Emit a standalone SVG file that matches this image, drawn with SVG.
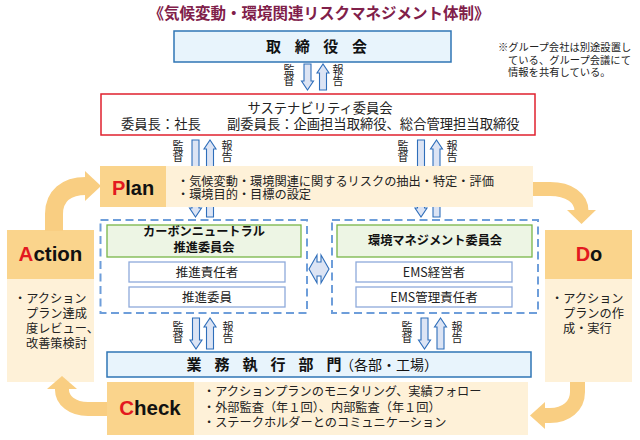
<svg xmlns="http://www.w3.org/2000/svg" width="640" height="440" viewBox="0 0 640 440">
<style>
.jp{font-family:'Noto Sans CJK JP','Noto Sans',sans-serif;fill:#222}
.b{font-weight:bold}
.lat{font-family:'Liberation Sans',Arial,sans-serif;font-weight:bold;fill:#111}
.red{fill:#E3191F}
.bluebox{fill:#E8F4FC;stroke:#2F75B5;stroke-width:1.5}
.hdr{fill:#FAD48C}
.cream{fill:#FEF1D8}
.green{fill:#EDF5E4;stroke:#78B548;stroke-width:1.3}
.sub{fill:#fff;stroke:#8EAADB;stroke-width:1.3}
.dash{fill:none;stroke:#6E9EDA;stroke-width:2;stroke-dasharray:8 4.5}
.va{fill:#DCE4F4;stroke:#2F6EBA;stroke-width:1.1}
.curve{fill:none;stroke:#F9CE82}
.head{fill:#F9CE82}
.vl{font-size:11px;writing-mode:vertical-rl;text-orientation:upright}
.t12{font-size:12.2px}
.mid{text-anchor:middle}
</style>
<rect width="640" height="440" fill="#fff"/>

<g id="title">
<text x="319" y="19" class="jp b mid" font-size="15.5" style="fill:#80204A">《気候変動・環境関連リスクマネジメント体制》</text>
</g>

<g id="note">
<text class="jp" font-size="10.3"><tspan x="498" y="51">※グループ会社は別途設置し</tspan><tspan x="508" y="63.5">ている、グループ会議にて</tspan><tspan x="508" y="76">情報を共有している。</tspan></text>
</g>

<g id="action">
<rect x="7" y="230" width="87" height="49" class="hdr"/>
<rect x="7" y="279" width="87" height="103" class="cream"/>
<text x="50.5" y="261" class="lat mid" font-size="20.5"><tspan class="red">A</tspan>ction</text>
<text class="jp t12"><tspan x="14" y="303">・アクション</tspan><tspan x="26" y="318">プラン達成</tspan><tspan x="26" y="333">度レビュー、</tspan><tspan x="26" y="348">改善策検討</tspan></text>
</g>

<g id="connectors">
<path class="va" d="M304 64 H311 V81 H313.5 L307.5 90 L301.5 81 H304 Z"/>
<path class="va" d="M319.5 90 H326.5 V73 H329 L323 64 L317 73 H319.5 Z"/>
<path class="va" d="M192 140 H199 V208 H201.5 L195.5 217 L189.5 208 H192 Z"/>
<path class="va" d="M206.5 217 H213.5 V149 H216 L210 140 L204 149 H206.5 Z"/>
<path class="va" d="M417.5 140 H424.5 V208 H427 L421 217 L415 208 H417.5 Z"/>
<path class="va" d="M433 217 H440 V149 H442.5 L436.5 140 L430.5 149 H433 Z"/>
<path class="va" d="M192.5 318 H199.5 V340 H202 L196 349 L190 340 H192.5 Z"/>
<path class="va" d="M206.5 349 H213.5 V327 H216 L210 318 L204 327 H206.5 Z"/>
<path class="va" d="M421 318 H428 V340 H430.5 L424.5 349 L418.5 340 H421 Z"/>
<path class="va" d="M437 349 H444 V327 H446.5 L440.5 318 L434.5 327 H437 Z"/>
<path class="va" d="M309 269 L317 255 V262 H321 V255 L329 269 L321 283 V276 H317 V283 Z"/>
<g class="jp vl">
<text x="289" y="64">監督</text>
<text x="338" y="64">報告</text>
<text x="178" y="140">監督</text>
<text x="227" y="140">報告</text>
<text x="403" y="140">監督</text>
<text x="452" y="140">報告</text>
<text x="178" y="321">監督</text>
<text x="228" y="321">報告</text>
<text x="407" y="321">監督</text>
<text x="457" y="321">報告</text>
</g>
<path class="curve" stroke-width="18" d="M54 231 V214 C54 196 66 186 86 186"/>
<polygon class="head" points="85,171 85,201 101,186"/>
<path class="curve" stroke-width="14" d="M532 189 H550 C569 189 581.5 198 581.5 211"/>
<polygon class="head" points="567,210 596,210 581.5,224"/>
<path class="curve" stroke-width="15" d="M577.5 380 V392 C577.5 406 566 415.5 550 415.5 H544"/>
<polygon class="head" points="545,402 545,429 530,415.5"/>
<path class="curve" stroke-width="14" d="M108 409 H88 C72 409 62 400 62 390 V388"/>
<polygon class="head" points="47,389 77,389 62,376"/>
</g>

<g id="board">
<rect x="174" y="31" width="277" height="31" class="bluebox"/>
<g class="jp b mid" font-size="15" style="fill:#111">
<text x="273.5" y="52">取</text><text x="302.2" y="52">締</text><text x="330.8" y="52">役</text><text x="359.5" y="52">会</text>
</g>
</g>

<g id="sustainability">
<rect x="101" y="94" width="434" height="41" fill="#fff" stroke="#E0202E" stroke-width="1.5"/>
<text class="jp" font-size="13.3"><tspan x="320" y="112.5" class="mid">サステナビリティ委員会</tspan><tspan x="121" y="128.5">委員長：社長</tspan><tspan x="227" y="128.5">副委員長：企画担当取締役、総合管理担当取締役</tspan></text>
</g>

<g id="plan">
<rect x="100" y="166" width="66" height="41" class="hdr"/>
<rect x="166" y="166" width="367" height="41" class="cream"/>
<text x="133" y="195" class="lat mid" font-size="20"><tspan class="red">P</tspan>lan</text>
<text class="jp t12"><tspan x="177" y="185.5">・気候変動・環境関連に関するリスクの抽出・特定・評価</tspan><tspan x="177" y="198.5">・環境目的・目標の設定</tspan></text>
</g>

<g id="do">
<rect x="545" y="230" width="87" height="49" class="hdr"/>
<rect x="545" y="279" width="87" height="103" class="cream"/>
<text x="589" y="261" class="lat mid" font-size="20"><tspan class="red">D</tspan>o</text>
<text class="jp t12"><tspan x="551" y="303">・アクション</tspan><tspan x="563" y="318">プランの作</tspan><tspan x="563" y="333">成・実行</tspan></text>
</g>

<g id="carbon-neutral">
<rect x="100.5" y="220" width="206.5" height="93" class="dash"/>
<rect x="107" y="225" width="194" height="32" class="green"/>
<text class="jp b mid" font-size="12.2" style="fill:#111"><tspan x="204" y="236">カーボンニュートラル</tspan><tspan x="204" y="251.5">推進委員会</tspan></text>
<rect x="129" y="262" width="156" height="20" class="sub"/>
<text x="207" y="277" class="jp mid" font-size="12.5">推進責任者</text>
<rect x="129" y="287" width="156" height="20" class="sub"/>
<text x="207" y="301.5" class="jp mid" font-size="12.5">推進委員</text>
</g>

<g id="ems">
<rect x="332" y="220" width="206" height="93" class="dash"/>
<rect x="337" y="225" width="195" height="32" class="green"/>
<text x="435" y="245" class="jp b mid" font-size="12.2" style="fill:#111">環境マネジメント委員会</text>
<rect x="356" y="262" width="156" height="20" class="sub"/>
<text x="434" y="277" class="jp mid" font-size="12.5">EMS経営者</text>
<rect x="356" y="287" width="156" height="20" class="sub"/>
<text x="434" y="301.5" class="jp mid" font-size="12.5">EMS管理責任者</text>
</g>

<g id="business">
<rect x="107" y="352" width="424" height="25" class="bluebox"/>
<g class="jp b mid" font-size="15" style="fill:#111">
<text x="194" y="370">業</text><text x="222" y="370">務</text><text x="250" y="370">執</text><text x="278" y="370">行</text><text x="306" y="370">部</text><text x="334" y="370">門</text>
</g>
<text x="340" y="370" class="jp" font-size="14" style="fill:#111">（各部・工場）</text>
</g>

<g id="check">
<rect x="107" y="382" width="87" height="53" class="hdr"/>
<rect x="194" y="382" width="334" height="53" class="cream"/>
<text x="150" y="415" class="lat mid" font-size="20.5"><tspan class="red">C</tspan>heck</text>
<text class="jp t12"><tspan x="203" y="396">・アクションプランのモニタリング、実績フォロー</tspan><tspan x="203" y="411.5">・外部監査（年１回）、内部監査（年１回）</tspan><tspan x="203" y="427">・ステークホルダーとのコミュニケーション</tspan></text>
</g>
</svg>
